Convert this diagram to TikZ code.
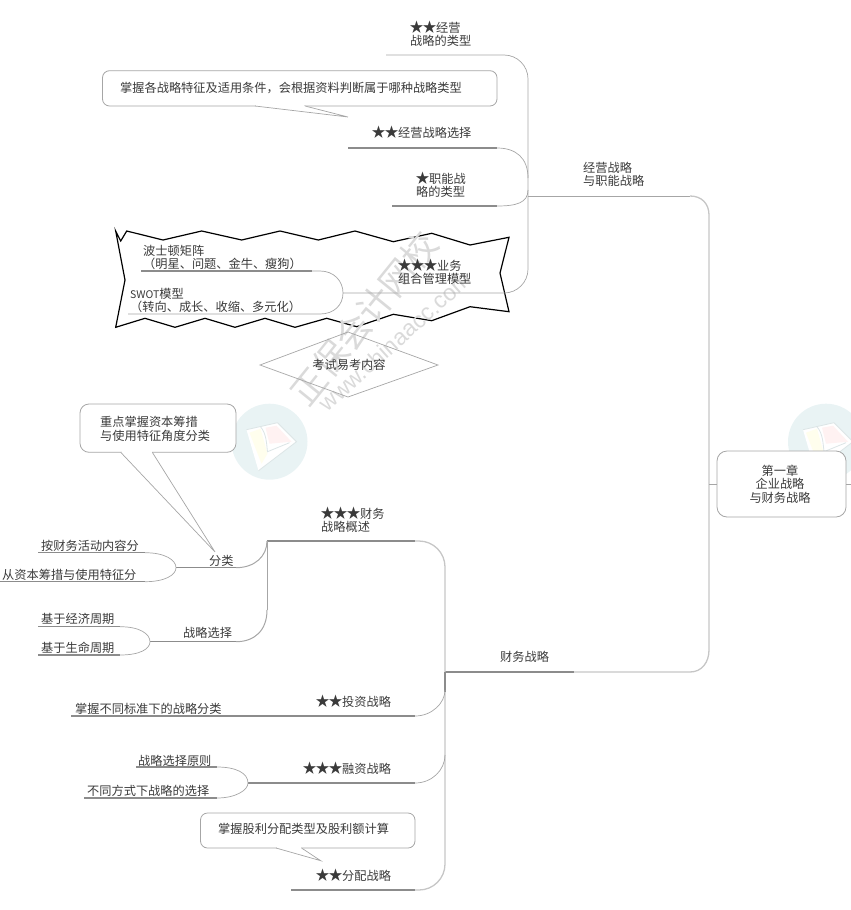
\documentclass[tikz,border=0pt]{standalone}
\usepackage{fontspec}
\setmainfont{Noto Sans CJK SC}
\newfontfamily\latinmark{Liberation Sans}
\definecolor{ink}{HTML}{3A3A3A}
\definecolor{heavyc}{HTML}{8C8C8C}
\definecolor{lightc}{HTML}{A6A6A6}
\definecolor{trunkc}{HTML}{C6C6C6}
\definecolor{markc}{HTML}{DADADA}
\definecolor{logoc}{HTML}{E9F3F4}
\tikzset{
  lbl/.style={anchor=west,inner sep=0pt,font=\fontsize{12.2}{13.4}\selectfont,text=ink,align=left},
  ctr/.style={inner sep=0pt,font=\fontsize{12.2}{13.4}\selectfont,text=ink,align=center},
  heavy/.style={draw=heavyc,line width=1.3pt},
  lightln/.style={draw=lightc,line width=0.7pt},
  trunk/.style={draw=trunkc,line width=1.3pt},
  callout/.style={draw=lightc,line width=0.8pt,fill=white},
  wavy/.style={draw=black,line width=1.2pt,line join=miter,fill=white},
  wm/.style={inner sep=0pt,text=markc}
}
\newcommand{\st}{\makebox[13pt][c]{\fontsize{14}{14}\selectfont ★}}
\newcommand{\bookmark}[2]{%
  \fill[logoc] (#1,#2) circle (38);
  \begin{scope}[shift={(#1,#2)}]
    \fill[white] (-23,-12) -- (8,-19) -- (27,0) -- (-11,29) -- cycle;
    \fill[yellow!7] (-20,-9) -- (-9,-13) -- (-2,12) -- (-8,22) -- cycle;
    \fill[red!5] (-4,-14) -- (7,-16) -- (22,0) -- (0,2) -- cycle;
    \draw[logoc!88!gray,line width=0.8pt] (-23,-12) -- (8,-19) -- (27,0) -- (-11,29);
    \draw[logoc!88!gray,line width=0.8pt] (-9,-15) .. controls (-3,-8) and (-3,2) .. (-2,10) -- (20,1);
  \end{scope}}
\begin{document}
\begin{tikzpicture}[x=1pt,y=-1pt]
\useasboundingbox (0,0) rectangle (851,910);
% logos
\begin{scope}
\clip (0,0) rectangle (851,910);
\bookmark{269.5}{441.7}
\bookmark{826}{441.7}
\end{scope}

% wavy cloud
\path[wavy] (115.7,231) -- (120.7,241) -- (126.7,231) -- (163,240) -- (201.7,231) -- (241.7,240) -- (280,231) -- (318.3,240) -- (355,231) -- (393.3,241.7) -- (431.7,233.3) -- (470,245) -- (509,237.3) -- (500,273) -- (509,311.7) -- (470,306.7) -- (431.7,320.7) -- (393.3,314.3) -- (356.7,326.7) -- (326.7,318.3) -- (295,327.3) -- (265,318.3) -- (235,327.3) -- (205,318.3) -- (175,327.3) -- (145,318.3) -- (115.7,327.3) -- (125,280) -- cycle;

% watermark
\node[wm,font=\fontsize{35}{35}\selectfont,rotate=51] (mark1) at (364,318) {正保会计网校};
\node[wm,font=\latinmark\fontsize{23}{23}\selectfont,rotate=42] (mark2) at (395,341) {www.chinaacc.com};

% diamond
\draw[lightln] (260,365) -- (348,332) -- (438,365) -- (348,397) -- cycle;
\node[ctr] (exam) at (349,365) {考试易考内容};

% junction coordinates
\coordinate (j1) at (528,196);
\coordinate (c1) at (690,196);
\coordinate (c2) at (709,215);
\coordinate (c3) at (709,650);
\coordinate (c4) at (690,672);
\coordinate (j2) at (445,672);
\coordinate (fin1) at (574,672);

% root
\node[draw=lightc,line width=0.8pt,fill=white,rounded corners=10,minimum width=129pt,minimum height=66pt,inner sep=0pt] (root) at (781.5,484) {};
\node[ctr] (roott) at (780,484) {第一章\\企业战略\\与财务战略};
\coordinate (trunkm) at (709,484);
\coordinate (rootout) at (851,484);
\draw[lightln] (j1) -- (c1);
\draw[trunk] (c1) .. controls (702,196) and (709,204) .. (c2) -- (c3) .. controls (709,662) and (702,672) .. (c4) -- (fin1);
\draw[lightln,line width=1pt] (trunkm) -- (root.west);
\draw[lightln,line width=1pt] (root.east) -- (rootout);
\draw[heavy] (j2) -- (fin1);

% upper bracket
\coordinate (a1) at (386,55);
\coordinate (a2) at (528,55);
\coordinate (a3) at (528,293);
\coordinate (a4) at (343,293);
\draw[lightln,rounded corners=24] (a1) -- (a2) -- (a3) -- (a4);
\coordinate (b1) at (348,148);
\coordinate (b2) at (497,148);
\coordinate (b3) at (528,178);
\draw[heavy] (b1) -- (b2);
\draw[lightln] (b2) .. controls (516,148) and (528,158) .. (b3);
\coordinate (d1) at (392,206);
\coordinate (d2) at (497,206);
\coordinate (d3) at (528,190);
\draw[heavy] (d1) -- (d2);
\draw[lightln] (d2) .. controls (516,206) and (528,203) .. (d3);

% cloud branches
\coordinate (e1) at (141,271);
\coordinate (e2) at (312,271);
\coordinate (e3) at (128,314);
\coordinate (e4) at (320,314);
\draw[heavy] (e1) -- (e2);
\draw[lightln] (e2) -- (320,271) .. controls (334,271) and (343,281) .. (a4) .. controls (343,305) and (334,314) .. (e4) -- (e3);

% upper labels
\node[lbl] (n1) at (410,33.5) {\st\st 经营\\战略的类型};
\node[lbl] (n2) at (372,132) {\st\st 经营战略选择};
\node[lbl] (n3) at (416,184.5) {\st 职能战\\略的类型};
\node[lbl] (n4) at (398,271.5) {\st\st\st 业务\\组合管理模型};
\node[lbl] (n5) at (143,257.5) {波士顿矩阵\\（明星、问题、金牛、瘦狗）};
\node[lbl] (n6) at (130,300.5) {{\fontsize{10.5}{13}\selectfont SWOT}模型\\（转向、成长、收缩、多元化）};
\node[lbl] (n7) at (583,174.5) {经营战略\\与职能战略};
\node[lbl] (n8) at (500,657) {财务战略};

% top callout
\coordinate (t1) at (348,117);
\coordinate (t1a) at (255,106);
\coordinate (t1b) at (305,106);
\draw[callout,rounded corners=7] (102.5,70.7) rectangle (497,106);
\fill[white] (t1a) -- (t1) -- (t1b) -- cycle;
\fill[white] (256,105) rectangle (304,107);
\draw[lightln] (t1a) -- (t1) -- (t1b);
\node[lbl] (n9) at (120,88) {掌握各战略特征及适用条件，会根据资料判断属于哪种战略类型};

% lower bracket
\coordinate (f1) at (267,541);
\coordinate (f2) at (415,541);
\coordinate (f3) at (445,541);
\coordinate (f4) at (445,890);
\coordinate (f5) at (415,890);
\coordinate (f6) at (291,890);
\draw[heavy] (f1) -- (f2);
\draw[trunk,rounded corners=26] (f2) -- (f3) -- (f4) -- (f5);
\draw[heavy] (f5) -- (f6);
\draw[heavy,line width=1.1pt] (j2) -- (445,692);

\coordinate (g1) at (71,716);
\coordinate (g2) at (415,716);
\draw[heavy] (g1) -- (g2);
\draw[lightln] (g2) .. controls (432,716) and (445,703) .. (445,690);
\coordinate (h1) at (248,783);
\coordinate (h2) at (415,783);
\draw[heavy] (h1) -- (h2);
\draw[lightln] (h2) .. controls (432,783) and (445,770) .. (445,755);
\coordinate (i1) at (136,767);
\coordinate (i2) at (217,767);
\coordinate (i3) at (84,798);
\coordinate (i4) at (217,798);
\draw[heavy] (i1) -- (i2);
\draw[heavy] (i3) -- (i4);
\draw[lightln] (i2) .. controls (236,767) and (248,773) .. (h1) .. controls (248,790) and (236,798) .. (i4);

% fen lei branches
\coordinate (k1) at (176,567.7);
\coordinate (k2) at (236,567.7);
\draw[heavy] (k1) -- (k2);
\draw[lightln,line width=1pt] (k2) .. controls (255,567.7) and (267,556) .. (f1);
\draw[lightln,line width=1pt] (f1) -- (267,610);
\coordinate (l1) at (150,641.7);
\coordinate (l2) at (236,641.7);
\draw[heavy] (l1) -- (l2);
\draw[lightln,line width=1pt] (l2) .. controls (255,641.7) and (267,630) .. (267,610);
\coordinate (m1) at (38,552.7);
\coordinate (m2) at (145,552.7);
\coordinate (m3) at (0,581.7);
\coordinate (m4) at (145,581.7);
\draw[heavy] (m1) -- (m2);
\draw[heavy] (m3) -- (m4);
\draw[lightln] (m2) .. controls (165,552.7) and (176,560) .. (k1) .. controls (176,575) and (165,581.7) .. (m4);
\coordinate (o1) at (38,626.7);
\coordinate (o2) at (120,626.7);
\coordinate (o3) at (38,655);
\coordinate (o4) at (120,655);
\draw[heavy] (o1) -- (o2);
\draw[heavy] (o3) -- (o4);
\draw[lightln] (o2) .. controls (140,626.7) and (150,634) .. (l1) .. controls (150,649) and (140,655) .. (o4);

% lower callouts
\coordinate (t2) at (215,552);
\coordinate (t2a) at (120.7,452.3);
\coordinate (t2b) at (152.3,452.3);
\draw[callout,rounded corners=9] (80,404) rectangle (236,452.3);
\fill[white] (t2a) -- (t2) -- (t2b) -- cycle;
\fill[white] (121.5,451.3) rectangle (151.5,453.3);
\draw[lightln] (t2a) -- (t2) -- (t2b);
\node[lbl] (p1) at (100,429) {重点掌握资本筹措\\与使用特征角度分类};
\coordinate (t3) at (320.7,860.7);
\coordinate (t3a) at (276,848);
\coordinate (t3b) at (301.5,848);
\draw[callout,rounded corners=7] (200.5,813) rectangle (415,848);
\fill[white] (t3a) -- (t3) -- (t3b) -- cycle;
\fill[white] (277,847) rectangle (300.5,849);
\draw[lightln] (t3a) -- (t3) -- (t3b);
\node[lbl] (p2) at (218,829) {掌握股利分配类型及股利额计算};

% lower labels
\node[lbl] (q1) at (321,519.5) {\st\st\st 财务\\战略概述};
\node[lbl] (q2) at (209,561) {分类};
\node[lbl] (q3) at (41,546) {按财务活动内容分};
\node[lbl] (q4) at (2,575) {从资本筹措与使用特征分};
\node[lbl] (q5) at (41,619) {基于经济周期};
\node[lbl] (q6) at (41,648) {基于生命周期};
\node[lbl] (q7) at (183,633) {战略选择};
\node[lbl] (q8) at (75,709) {掌握不同标准下的战略分类};
\node[lbl] (q9) at (316,701) {\st\st 投资战略};
\node[lbl] (q10) at (303,768) {\st\st\st 融资战略};
\node[lbl] (q11) at (138,761) {战略选择原则};
\node[lbl] (q12) at (87,791) {不同方式下战略的选择};
\node[lbl] (q13) at (316,875) {\st\st 分配战略};
\end{tikzpicture}
\end{document}
